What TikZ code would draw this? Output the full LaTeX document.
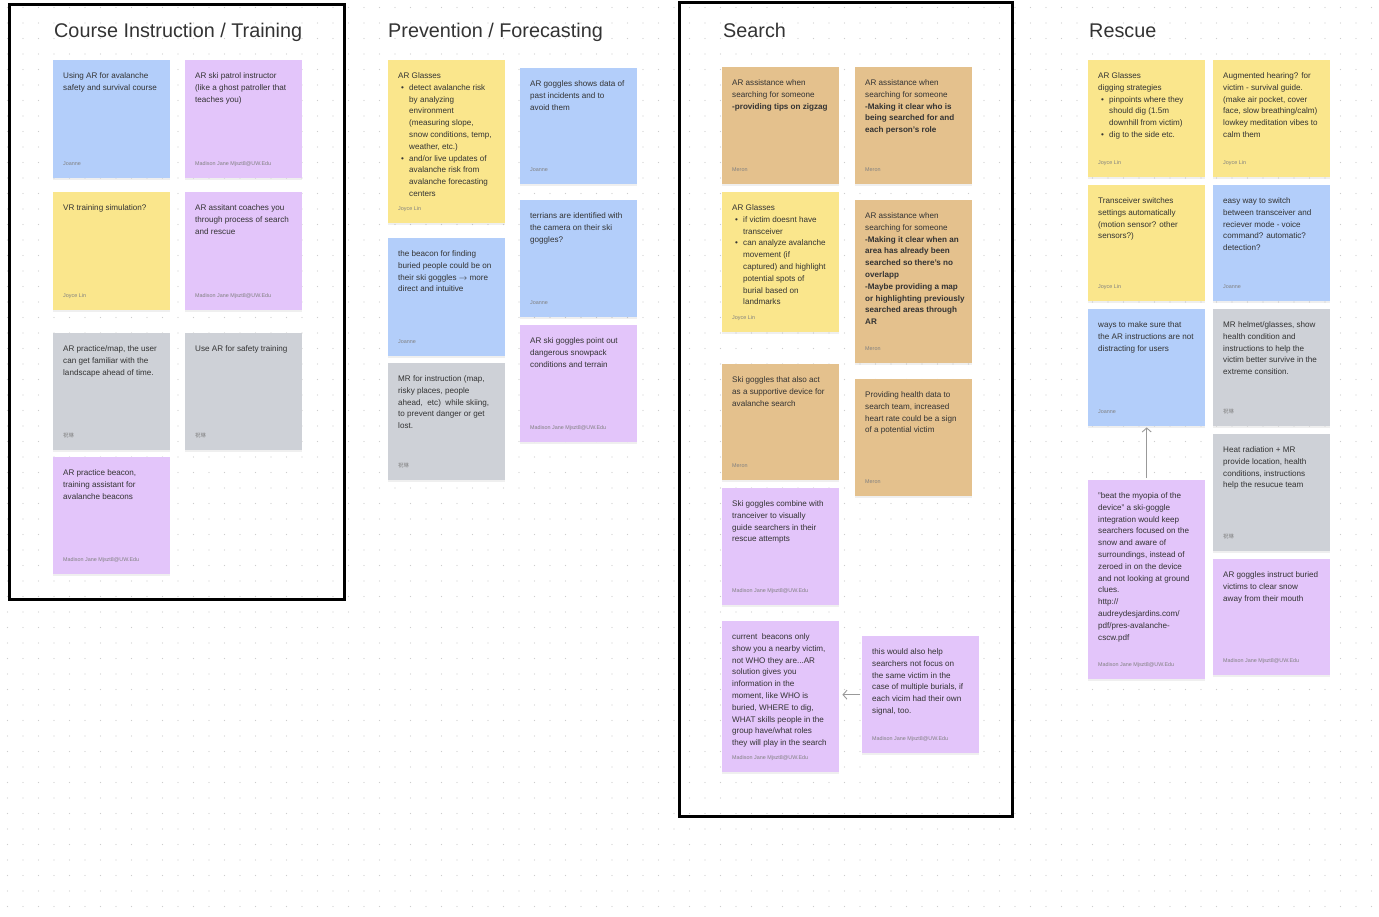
\documentclass[tikz,border=0pt]{standalone}
\usepackage{fontspec}
\setmainfont{Liberation Sans}
\newfontfamily\cjk{Noto Sans CJK SC}
\definecolor{nBlue}{HTML}{B3CEFA}
\definecolor{nPurple}{HTML}{E3C5FA}
\definecolor{nYellow}{HTML}{FAE68C}
\definecolor{nGray}{HTML}{CED1D7}
\definecolor{nTan}{HTML}{E4C18D}
\definecolor{nInk}{HTML}{333333}
\definecolor{nDot}{HTML}{CDCDCD}
\usetikzlibrary{arrows.meta, shadows}

% one sticky note: name, x, y, height, colour, text, author
\newcommand\sticky[7]{%
  \node[note, fill=#5, minimum height=#4pt] (#1) at (#2,#3) {};
  \node[notetxt] (#1t) at ([xshift=10pt,yshift=-12.5pt]#1.north west) {#6};
  \node[who] (#1w) at ([xshift=10pt,yshift=14.5pt]#1.south west) {#7};}
\newcommand\bul{\makebox[11pt][l]{\hspace{3pt}\textbullet}}
\newcommand\ind{\hspace*{11pt}}
\newcommand\authMJ{Madison Jane Mjszt8@UW.Edu}
\newcommand\authZL{{\cjk 祝琳}}

\begin{document}
\begin{tikzpicture}[x=1pt, y=-1pt,
  note/.style={anchor=north west, minimum width=117pt, inner sep=0pt,
               drop shadow={shadow xshift=0pt, shadow yshift=-1.5pt, opacity=0.12}},
  notetxt/.style={anchor=north west, inner sep=0pt, align=left, text=nInk,
                  font=\fontsize{8.1}{11.8}\selectfont},
  who/.style={anchor=west, inner sep=0pt, text=black!50,
              font=\fontsize{5.4}{6}\selectfont},
  ttl/.style={anchor=base west, inner sep=0pt, text=nInk,
              font=\fontsize{19.8}{22}\selectfont},
  frame/.style={draw=black, line width=3pt},
  link/.style={draw=black!40, line width=0.9pt, -{Straight Barb[length=4pt, width=9pt]}}]
  \useasboundingbox (0,0) rectangle (1379,916);
  \fill[white] (0,0) rectangle (1379,916);
  % dot grid
  \foreach \k in {0,...,58}
    \draw[nDot, line width=1.2pt, line cap=round, dash pattern=on 0pt off 15.5pt]
      (7.5,7.5+15.5*\k) -- (1379,7.5+15.5*\k);

  % titles and frames
  \node[ttl] (tCourse) at (54,37) {Course Instruction / Training};
  \node[ttl] (tPrev) at (388,37) {Prevention / Forecasting};
  \node[ttl] (tSearch) at (723,37) {Search};
  \node[ttl] (tRescue) at (1089,37) {Rescue};
  \draw[frame] (9.5,4.5) rectangle (344.5,599.5);
  \draw[frame] (679.5,2.5) rectangle (1012.5,816.5);

  % course instruction / training
  \sticky{n1}{53}{60}{118}{nBlue}{Using AR for avalanche\\safety and survival course}{Joanne}
  \sticky{n2}{185}{60}{118}{nPurple}{AR ski patrol instructor\\(like a ghost patroller that\\teaches you)}{\authMJ}
  \sticky{n3}{53}{192}{118}{nYellow}{VR training simulation?}{Joyce Lin}
  \sticky{n4}{185}{192}{118}{nPurple}{AR assitant coaches you\\through process of search\\and rescue}{\authMJ}
  \sticky{n5}{53}{333}{117}{nGray}{AR practice/map, the user\\can get familiar with the\\landscape ahead of time.}{\authZL}
  \sticky{n6}{185}{333}{117}{nGray}{Use AR for safety training}{\authZL}
  \sticky{n7}{53}{457}{117}{nPurple}{AR practice beacon,\\training assistant for\\avalanche beacons}{\authMJ}

  % prevention / forecasting
  \sticky{p1}{388}{60}{163}{nYellow}{AR Glasses\\\bul detect avalanche risk\\\ind by analyzing\\\ind environment\\\ind (measuring slope,\\\ind snow conditions, temp,\\\ind weather, etc.)\\\bul and/or live updates of\\\ind avalanche risk from\\\ind avalanche forecasting\\\ind centers}{Joyce Lin}
  \sticky{p2}{520}{68}{116}{nBlue}{AR goggles shows data of\\past incidents and to\\avoid them}{Joanne}
  \sticky{p3}{520}{200}{117}{nBlue}{terrians are identified with\\the camera on their ski\\goggles?}{Joanne}
  \sticky{p4}{388}{238}{118}{nBlue}{the beacon for finding\\buried people could be on\\their ski goggles $\rightarrow$ more\\direct and intuitive}{Joanne}
  \sticky{p5}{388}{363}{117}{nGray}{MR for instruction (map,\\risky places, people\\ahead,\ \ etc)\ \ while skiing,\\to prevent danger or get\\lost.}{\authZL}
  \sticky{p6}{520}{325}{117}{nPurple}{AR ski goggles point out\\dangerous snowpack\\conditions and terrain}{\authMJ}

  % search
  \sticky{s1}{722}{67}{117}{nTan}{AR assistance when\\searching for someone\\\bfseries -providing tips on zigzag}{Meron}
  \sticky{s2}{855}{67}{117}{nTan}{AR assistance when\\searching for someone\\\bfseries -Making it clear who is\\\bfseries being searched for and\\\bfseries each person's role}{Meron}
  \sticky{s3}{722}{192}{140}{nYellow}{AR Glasses\\\bul if victim doesnt have\\\ind transceiver\\\bul can analyze avalanche\\\ind movement (if\\\ind captured) and highlight\\\ind potential spots of\\\ind burial based on\\\ind landmarks}{Joyce Lin}
  \sticky{s4}{855}{200}{163}{nTan}{AR assistance when\\searching for someone\\\bfseries -Making it clear when an\\\bfseries area has already been\\\bfseries searched so there's no\\\bfseries overlapp\\\bfseries -Maybe providing a map\\\bfseries or highlighting previously\\\bfseries searched areas through\\\bfseries AR}{Meron}
  \sticky{s5}{722}{364}{116}{nTan}{Ski goggles that also act\\as a supportive device for\\avalanche search}{Meron}
  \sticky{s6}{855}{379}{117}{nTan}{Providing health data to\\search team, increased\\heart rate could be a sign\\of a potential victim}{Meron}
  \sticky{s7}{722}{488}{117}{nPurple}{Ski goggles combine with\\tranceiver to visually\\guide searchers in their\\rescue attempts}{\authMJ}
  \sticky{s8}{722}{621}{151}{nPurple}{current\ \ beacons only\\show you a nearby victim,\\not WHO they are...AR\\solution gives you\\information in the\\moment, like WHO is\\buried, WHERE to dig,\\WHAT skills people in the\\group have/what roles\\they will play in the search}{\authMJ}
  \sticky{s9}{862}{636}{117}{nPurple}{this would also help\\searchers not focus on\\the same victim in the\\case of multiple burials, if\\each vicim had their own\\signal, too.}{\authMJ}
  \draw[link, shorten <=2pt, shorten >=3pt] (s9.west) -- (s9.west -| s8.east);

  % rescue
  \sticky{r1}{1088}{60}{117}{nYellow}{AR Glasses\\digging strategies\\\bul pinpoints where they\\\ind should dig (1.5m\\\ind downhill from victim)\\\bul dig to the side etc.}{Joyce Lin}
  \sticky{r2}{1213}{60}{117}{nYellow}{Augmented hearing? for\\victim - survival guide.\\(make air pocket, cover\\face, slow breathing/calm)\\lowkey meditation vibes to\\calm them}{Joyce Lin}
  \sticky{r3}{1088}{185}{116}{nYellow}{Transceiver switches\\settings automatically\\(motion sensor? other\\sensors?)}{Joyce Lin}
  \sticky{r4}{1213}{185}{116}{nBlue}{easy way to switch\\between transceiver and\\reciever mode - voice\\command? automatic?\\detection?}{Joanne}
  \sticky{r5}{1088}{309}{117}{nBlue}{ways to make sure that\\the AR instructions are not\\distracting for users}{Joanne}
  \sticky{r6}{1213}{309}{117}{nGray}{MR helmet/glasses, show\\health condition and\\instructions to help the\\victim better survive in the\\extreme consition.}{\authZL}
  \sticky{r7}{1213}{434}{117}{nGray}{Heat radiation + MR\\provide location, health\\conditions, instructions\\help the resucue team}{\authZL}
  \sticky{r8}{1213}{559}{116}{nPurple}{AR goggles instruct buried\\victims to clear snow\\away from their mouth}{\authMJ}
  \sticky{r9}{1088}{480}{199}{nPurple}{"beat the myopia of the\\device" a ski-goggle\\integration would keep\\searchers focused on the\\snow and aware of\\surroundings, instead of\\zeroed in on the device\\and not looking at ground\\clues.\\http://\\audreydesjardins.com/\\pdf/pres-avalanche-\\cscw.pdf}{\authMJ}
  \draw[link, shorten <=2pt, shorten >=1pt] (r9.north) -- (r5.south);
\end{tikzpicture}
\end{document}
